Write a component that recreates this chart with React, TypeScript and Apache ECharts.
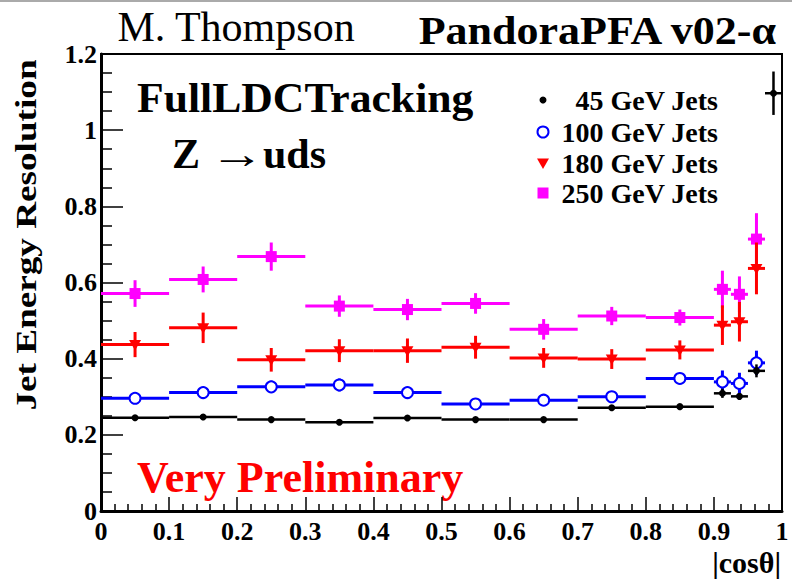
import React, { useEffect, useRef } from "react";
import * as echarts from "echarts";

// Bin edges in |cos(theta)|
const binLow = [0, 0.1, 0.2, 0.3, 0.4, 0.5, 0.6, 0.7, 0.8, 0.9, 0.925, 0.95, 0.975];
const binHigh = [0.1, 0.2, 0.3, 0.4, 0.5, 0.6, 0.7, 0.8, 0.9, 0.925, 0.95, 0.975, 1.0];

// Jet energy resolution per bin (value, error)
const res45 = [0.245, 0.247, 0.240, 0.233, 0.244, 0.240, 0.240, 0.271, 0.274, 0.309, 0.301, 0.368, 1.097];
const err45 = [0.004, 0.004, 0.004, 0.004, 0.004, 0.004, 0.004, 0.005, 0.005, 0.012, 0.008, 0.017, 0.057];
const res100 = [0.296, 0.311, 0.326, 0.331, 0.311, 0.281, 0.291, 0.300, 0.348, 0.339, 0.335, 0.389, null];
const err100 = [0.008, 0.010, 0.016, 0.017, 0.010, 0.006, 0.008, 0.010, 0.010, 0.030, 0.028, 0.032, null];
const res180 = [0.437, 0.481, 0.397, 0.421, 0.421, 0.430, 0.402, 0.399, 0.423, 0.488, 0.497, 0.637, null];
const err180 = [0.033, 0.040, 0.031, 0.030, 0.032, 0.030, 0.026, 0.026, 0.025, 0.052, 0.052, 0.068, null];
const res250 = [0.571, 0.608, 0.668, 0.538, 0.529, 0.545, 0.477, 0.512, 0.508, 0.582, 0.569, 0.714, null];
const err250 = [0.035, 0.034, 0.037, 0.028, 0.028, 0.027, 0.027, 0.024, 0.021, 0.049, 0.047, 0.068, null];

const seriesNames = ["45 GeV Jets", "100 GeV Jets", "180 GeV Jets", "250 GeV Jets"];
const seriesColors = ["#000000", "#0000ff", "#ff0000", "#ff00ff"];
const seriesMarkers = ["dot", "openCircle", "downTriangle", "square"];

const SERIF = "'Liberation Serif', 'Times New Roman', Times, serif";

function buildRows(vals: (number | null)[], errs: (number | null)[]) {
  const rows: number[][] = [];
  vals.forEach((v, i) => {
    if (v !== null && v !== undefined) rows.push([binLow[i], binHigh[i], v, (errs[i] as number) || 0]);
  });
  return rows;
}

function markerShape(kind: string, cx: number, cy: number, color: string): any {
  if (kind === "dot") {
    return { type: "circle", shape: { cx, cy, r: 3.5 }, style: { fill: color } };
  }
  if (kind === "openCircle") {
    return { type: "circle", shape: { cx, cy, r: 5.5 }, style: { fill: "#fff", stroke: color, lineWidth: 2 } };
  }
  if (kind === "downTriangle") {
    return {
      type: "polygon",
      shape: { points: [[cx - 6, cy - 4.5], [cx + 6, cy - 4.5], [cx, cy + 6]] },
      style: { fill: color },
    };
  }
  return { type: "rect", shape: { x: cx - 5.5, y: cy - 5.5, width: 11, height: 11 }, style: { fill: color } };
}

function makeRenderer(kind: string, color: string, lw: number) {
  return (_params: any, api: any) => {
    const lo = api.value(0);
    const hi = api.value(1);
    const y = api.value(2);
    const e = api.value(3);
    const xc = (lo + hi) / 2;
    const pL = api.coord([lo, y]);
    const pR = api.coord([hi, y]);
    const pT = api.coord([xc, y + e]);
    const pB = api.coord([xc, y - e]);
    const pC = api.coord([xc, y]);
    return {
      type: "group",
      children: [
        { type: "line", shape: { x1: pL[0], y1: pL[1], x2: pR[0], y2: pR[1] }, style: { stroke: color, lineWidth: lw } },
        { type: "line", shape: { x1: pT[0], y1: pT[1], x2: pB[0], y2: pB[1] }, style: { stroke: color, lineWidth: lw } },
        markerShape(kind, pC[0], pC[1], color),
      ],
    };
  };
}

export default function App() {
  const ref = useRef<HTMLDivElement>(null);

  useEffect(() => {
    if (!ref.current) return;
    const chart = echarts.init(ref.current, undefined, { renderer: "svg" });

    const allVals = [res45, res100, res180, res250];
    const allErrs = [err45, err100, err180, err250];

    const series = seriesNames.map((name, i) => ({
      name,
      type: "custom",
      renderItem: makeRenderer(seriesMarkers[i], seriesColors[i], i === 0 ? 2.5 : 3),
      itemStyle: { color: seriesColors[i] },
      encode: { x: [0, 1], y: 2 },
      data: buildRows(allVals[i], allErrs[i]),
      z: 10 - i,
    }));

    const fmt = (v: number) => String(Number(v.toFixed(2)));

    const legendRowsY = [100, 132, 163, 193];
    const legendGraphics: any[] = [];
    seriesNames.forEach((name, i) => {
      legendGraphics.push({
        type: "text",
        x: 718,
        y: legendRowsY[i],
        style: {
          text: name,
          fill: "#000",
          font: `bold 28px ${SERIF}`,
          textAlign: "right",
          textVerticalAlign: "middle",
        },
      });
      const m = markerShape(seriesMarkers[i], 543, legendRowsY[i], seriesColors[i]);
      legendGraphics.push(m);
    });

    const option: any = {
      animation: false,
      backgroundColor: "#ffffff",
      grid: {
        left: 101,
        right: 10,
        top: 54,
        bottom: 68,
        show: true,
        borderColor: "#000",
        borderWidth: 2,
        backgroundColor: "transparent",
      },
      xAxis: {
        type: "value",
        min: 0,
        max: 1,
        interval: 0.1,
        axisLine: { show: true, onZero: false, lineStyle: { color: "#000", width: 3 } },
        axisTick: { show: true, inside: true, length: 14, lineStyle: { color: "#000", width: 1.5 } },
        minorTick: { show: true, splitNumber: 5, length: 7, lineStyle: { color: "#000", width: 1.5 } },
        splitLine: { show: false },
        axisLabel: {
          color: "#000",
          fontFamily: SERIF,
          fontWeight: "bold",
          fontSize: 26,
          margin: 7,
          formatter: fmt,
        },
      },
      yAxis: {
        type: "value",
        min: 0,
        max: 1.2,
        interval: 0.2,
        axisLine: { show: true, onZero: false, lineStyle: { color: "#000", width: 3 } },
        axisTick: { show: true, inside: true, length: 22, lineStyle: { color: "#000", width: 1.5 } },
        minorTick: { show: true, splitNumber: 4, length: 11, lineStyle: { color: "#000", width: 1.5 } },
        splitLine: { show: false },
        axisLabel: {
          color: "#000",
          fontFamily: SERIF,
          fontWeight: "bold",
          fontSize: 26,
          margin: 4,
          padding: [8, 0, 0, 0],
          formatter: fmt,
        },
      },
      series,
      graphic: [
        {
          type: "line",
          shape: { x1: 0, y1: 1, x2: 792, y2: 1 },
          style: { stroke: "#aaaaaa", lineWidth: 2 },
        },
        {
          type: "text",
          x: 236,
          y: 27,
          style: {
            text: "M. Thompson",
            fill: "#000",
            font: `normal 42px ${SERIF}`,
            textAlign: "center",
            textVerticalAlign: "middle",
          },
        },
        {
          type: "text",
          x: 776,
          y: 31,
          scaleX: 1.1,
          style: {
            text: "PandoraPFA v02-α",
            fill: "#000",
            font: `bold 40px ${SERIF}`,
            textAlign: "right",
            textVerticalAlign: "middle",
          },
        },
        {
          type: "text",
          x: 137,
          y: 98,
          scaleX: 1.04,
          style: {
            text: "FullLDCTracking",
            fill: "#000",
            font: `bold 42px ${SERIF}`,
            textAlign: "left",
            textVerticalAlign: "middle",
          },
        },
        {
          type: "text",
          x: 172,
          y: 154,
          style: {
            text: "Z",
            fill: "#000",
            font: `bold 42px ${SERIF}`,
            textAlign: "left",
            textVerticalAlign: "middle",
          },
        },
        {
          type: "text",
          x: 210,
          y: 154,
          scaleX: 1.3,
          style: {
            text: "→",
            fill: "#000",
            font: `normal 42px ${SERIF}`,
            textAlign: "left",
            textVerticalAlign: "middle",
          },
        },
        {
          type: "text",
          x: 263,
          y: 154,
          style: {
            text: "uds",
            fill: "#000",
            font: `bold 42px ${SERIF}`,
            textAlign: "left",
            textVerticalAlign: "middle",
          },
        },
        {
          type: "text",
          x: 137,
          y: 477,
          style: {
            text: "Very Preliminary",
            fill: "#ff0000",
            font: `bold 44px ${SERIF}`,
            textAlign: "left",
            textVerticalAlign: "middle",
          },
        },
        {
          type: "text",
          x: 781,
          y: 562,
          style: {
            text: "|cosθ|",
            fill: "#000",
            font: `bold 30px ${SERIF}`,
            textAlign: "right",
            textVerticalAlign: "middle",
          },
        },
        {
          type: "text",
          x: 26,
          y: 235,
          rotation: Math.PI / 2,
          scaleX: 1.24,
          scaleY: 1,
          style: {
            text: "Jet Energy Resolution",
            fill: "#000",
            font: `bold 30px ${SERIF}`,
            textAlign: "center",
            textVerticalAlign: "middle",
          },
        },
        ...legendGraphics,
      ],
    };

    chart.setOption(option);
    return () => chart.dispose();
  }, []);

  return (
    <div
      ref={ref}
      style={{ position: "absolute", left: 0, top: 0, width: 792, height: 579, background: "#fff" }}
    />
  );
}
